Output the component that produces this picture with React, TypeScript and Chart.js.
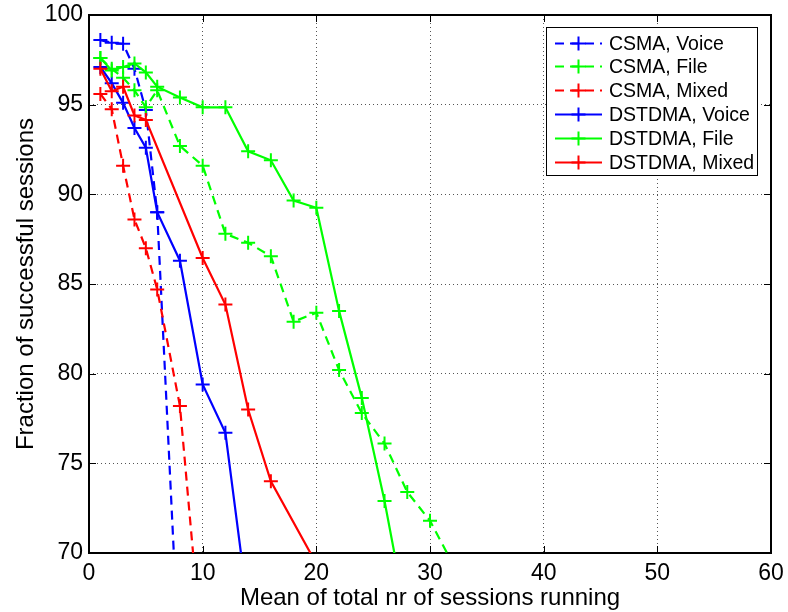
import React, { useEffect, useRef } from "react";
import { Chart, registerables } from "chart.js";
Chart.register(...registerables);

const FONT = '"Liberation Sans", Arial, Helvetica, sans-serif';

// ---- data ----
const csmaVoiceX = [1, 2, 3, 4, 5, 6, 8];
const csmaVoiceY = [98.6, 98.45, 98.4, 97.0, 94.7, 89.0, 63.0];

const csmaFileX = [1, 2, 3, 4, 5, 6, 8, 10, 12, 14, 16, 18, 20, 22, 24, 26, 28, 30, 32];
const csmaFileY = [97.6, 97.0, 96.5, 95.8, 94.85, 95.8, 92.7, 91.6, 87.8, 87.3, 86.55, 82.9, 83.4, 80.2, 77.8, 76.1, 73.4, 71.8, 69.4];

const csmaMixedX = [1, 2, 3, 4, 5, 6, 8, 10];
const csmaMixedY = [95.6, 94.75, 91.6, 88.6, 87.0, 84.7, 78.2, 64.0];

const dstdmaVoiceX = [1, 2, 3, 4, 5, 6, 8, 10, 12, 14];
const dstdmaVoiceY = [97.1, 96.2, 95.1, 93.7, 92.6, 89.0, 86.3, 79.4, 76.7, 66.9];

const dstdmaFileX = [1, 2, 3, 4, 5, 6, 8, 10, 12, 14, 16, 18, 20, 22, 24, 26, 28];
const dstdmaFileY = [97.6, 96.9, 97.1, 97.3, 96.8, 96.0, 95.4, 94.85, 94.85, 92.4, 91.9, 89.65, 89.25, 83.5, 78.65, 72.9, 66.2];

const dstdmaMixedX = [1, 2, 3, 4, 5, 10, 12, 14, 16, 20];
const dstdmaMixedY = [97.0, 95.75, 96.0, 94.4, 94.15, 86.45, 83.85, 78.0, 74.0, 69.4];

const seriesLabels = ["CSMA, Voice", "CSMA, File", "CSMA, Mixed", "DSTDMA, Voice", "DSTDMA, File", "DSTDMA, Mixed"];
const xTickValues = [0, 10, 20, 30, 40, 50, 60];
const yTickValues = [70, 75, 80, 85, 90, 95, 100];
const xTitle = "Mean of total nr of sessions running";
const yTitle = "Fraction of successful sessions";

const BLUE = "#0000ff";
const GREEN = "#00ff00";
const RED = "#ff0000";
const DASH = [9, 6];

const zip = (xs: number[], ys: number[]) => xs.map((x, i) => ({ x, y: ys[i] }));

const seriesDefs = [
  { xs: csmaVoiceX, ys: csmaVoiceY, color: BLUE, dash: DASH },
  { xs: csmaFileX, ys: csmaFileY, color: GREEN, dash: DASH },
  { xs: csmaMixedX, ys: csmaMixedY, color: RED, dash: DASH },
  { xs: dstdmaVoiceX, ys: dstdmaVoiceY, color: BLUE, dash: [] as number[] },
  { xs: dstdmaFileX, ys: dstdmaFileY, color: GREEN, dash: [] as number[] },
  { xs: dstdmaMixedX, ys: dstdmaMixedY, color: RED, dash: [] as number[] },
];

const framePlugin = {
  id: "matlabFrame",
  beforeDatasetsDraw(chart: any) {
    const { ctx, chartArea: a, scales } = chart;
    const x = scales.x, y = scales.y;
    ctx.save();
    ctx.strokeStyle = "#000";
    ctx.lineWidth = 1;
    ctx.setLineDash([]);
    ctx.beginPath();
    const T = 7;
    for (const v of xTickValues) {
      const px = Math.round(x.getPixelForValue(v)) + 0.5;
      ctx.moveTo(px, a.bottom);
      ctx.lineTo(px, a.bottom - T);
      ctx.moveTo(px, a.top);
      ctx.lineTo(px, a.top + T);
    }
    for (const v of yTickValues) {
      const py = Math.round(y.getPixelForValue(v)) + 0.5;
      ctx.moveTo(a.left, py);
      ctx.lineTo(a.left + T, py);
      ctx.moveTo(a.right, py);
      ctx.lineTo(a.right - T, py);
    }
    ctx.stroke();
    ctx.lineWidth = 2;
    ctx.strokeRect(a.left, a.top, a.right - a.left, a.bottom - a.top);
    ctx.restore();
  },
  afterDraw(chart: any) {
    const { ctx, chartArea: a } = chart;
    ctx.save();
    // axis titles
    ctx.fillStyle = "#000";
    ctx.font = `24px ${FONT}`;
    ctx.textAlign = "center";
    ctx.textBaseline = "middle";
    ctx.fillText(xTitle, (a.left + a.right) / 2, 598);
    ctx.save();
    ctx.translate(26, (a.top + a.bottom) / 2);
    ctx.rotate(-Math.PI / 2);
    ctx.fillText(yTitle, 0, 0);
    ctx.restore();

    // legend
    const bx = a.right - 225, by = a.top + 12, bw = 211, bh = 148;
    ctx.fillStyle = "#fff";
    ctx.fillRect(bx, by, bw, bh);
    ctx.strokeStyle = "#000";
    ctx.lineWidth = 1;
    ctx.setLineDash([]);
    ctx.strokeRect(bx + 0.5, by + 0.5, bw, bh);
    ctx.font = `19.5px ${FONT}`;
    ctx.textAlign = "left";
    ctx.textBaseline = "middle";
    chart.data.datasets.forEach((ds: any, i: number) => {
      const cy = Math.round(by + 15.5 + i * 23.8) + 0.5;
      const x0 = bx + 9, x1 = bx + 56, xm = (x0 + x1) / 2;
      ctx.strokeStyle = ds.borderColor;
      ctx.lineWidth = 2;
      ctx.setLineDash(ds.borderDash || []);
      ctx.beginPath();
      ctx.moveTo(x0, cy);
      ctx.lineTo(x1, cy);
      ctx.stroke();
      ctx.setLineDash([]);
      ctx.beginPath();
      ctx.moveTo(xm - 7, cy);
      ctx.lineTo(xm + 7, cy);
      ctx.moveTo(xm, cy - 7);
      ctx.lineTo(xm, cy + 7);
      ctx.stroke();
      ctx.fillStyle = "#000";
      ctx.fillText(ds.label, bx + 63, cy + 1);
    });
    ctx.restore();
  },
};

const zeroPad = (s: any) => {
  s.paddingTop = 0;
  s.paddingBottom = 0;
  s.paddingLeft = 0;
  s.paddingRight = 0;
};

export default function App() {
  const ref = useRef<HTMLCanvasElement>(null);
  useEffect(() => {
    const datasets = seriesDefs.map((s, i) => ({
      label: seriesLabels[i],
      data: zip(s.xs, s.ys),
      borderColor: s.color,
      backgroundColor: s.color,
      borderWidth: 2.2,
      borderDash: s.dash,
      pointStyle: "cross" as const,
      pointRadius: 7,
      pointBorderWidth: 2,
      pointBorderColor: s.color,
      pointBackgroundColor: s.color,
      tension: 0,
      fill: false,
      order: seriesDefs.length - i,
    }));
    const chart = new Chart(ref.current!, {
      type: "line",
      data: { datasets },
      options: {
        animation: false,
        responsive: false,
        layout: { padding: { left: 0, top: 15, right: 17, bottom: 0 } },
        plugins: { legend: { display: false }, tooltip: { enabled: false } },
        scales: {
          x: {
            type: "linear",
            min: 0,
            max: 60,
            afterFit: (s: any) => { s.height = 59; zeroPad(s); },
            afterBuildTicks: (s: any) => { s.ticks = xTickValues.map((v) => ({ value: v })); },
            ticks: { color: "#000", font: { family: FONT, size: 23 }, padding: 7, maxRotation: 0 },
            grid: { color: "#555", lineWidth: 1, drawTicks: false },
            border: { display: false, dash: [1, 3] },
          },
          y: {
            type: "linear",
            min: 70,
            max: 100,
            afterFit: (s: any) => { s.width = 89; zeroPad(s); },
            afterBuildTicks: (s: any) => { s.ticks = yTickValues.map((v) => ({ value: v })); },
            ticks: { color: "#000", font: { family: FONT, size: 23 }, padding: 6 },
            grid: { color: "#555", lineWidth: 1, drawTicks: false },
            border: { display: false, dash: [1, 3] },
          },
        },
      },
      plugins: [framePlugin],
    } as any);
    return () => chart.destroy();
  }, []);
  return (
    <div style={{ position: "absolute", left: 0, top: 0, width: 788, height: 612, background: "#fff" }}>
      <canvas ref={ref} width={788} height={612} />
    </div>
  );
}
